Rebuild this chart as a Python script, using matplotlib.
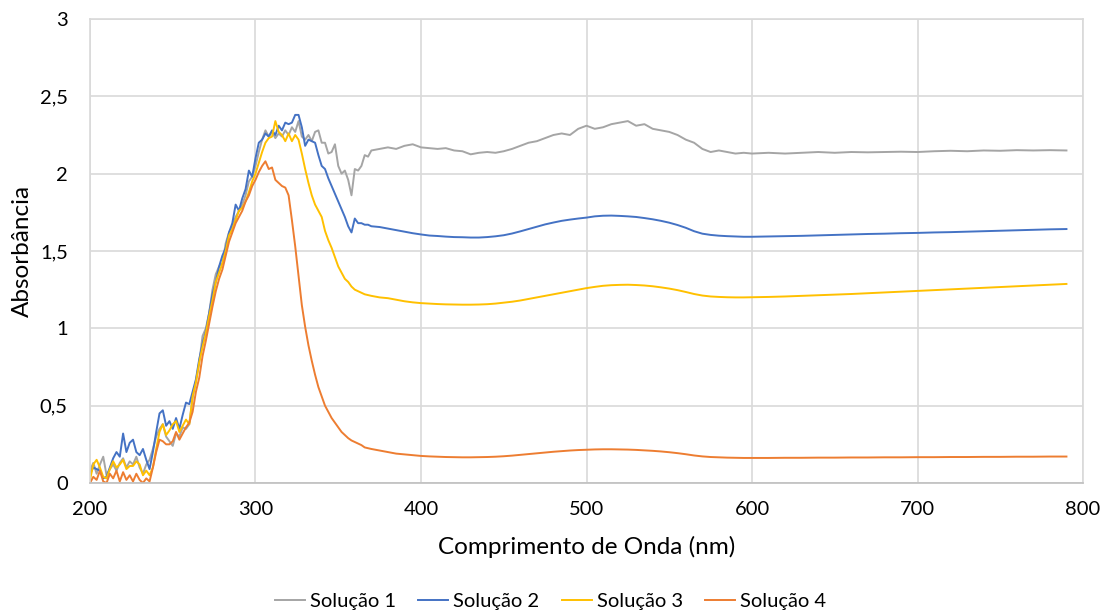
import matplotlib
matplotlib.use("Agg")
import matplotlib.pyplot as plt
import numpy as np

plt.rcParams['font.family'] = ['Lato', 'DejaVu Sans']

# comprimentos de onda: 200-370 de 2 em 2, 375-600 de 5 em 5, 610-790 de 10 em 10
wl_a = list(range(200, 371, 2))
wl_b = list(range(375, 601, 5)) + list(range(610, 791, 10))
wl = wl_a + wl_b

sol1_a = [0.08, 0.13, 0.06, 0.12, 0.17, 0.05, 0.09, 0.12, 0.08, 0.13,
          0.16, 0.10, 0.14, 0.12, 0.17, 0.10, 0.06, 0.12, 0.15, 0.22,
          0.30, 0.35, 0.38, 0.30, 0.27, 0.24, 0.32, 0.30, 0.36, 0.35,
          0.38, 0.55, 0.66, 0.78, 0.95, 1.00, 1.10, 1.25, 1.35, 1.40,
          1.42, 1.55, 1.62, 1.66, 1.72, 1.76, 1.80, 1.86, 1.95, 1.98,
          2.05, 2.14, 2.22, 2.28, 2.24, 2.27, 2.23, 2.26, 2.24, 2.28,
          2.25, 2.30, 2.27, 2.34, 2.24, 2.22, 2.25, 2.21, 2.27, 2.28,
          2.20, 2.20, 2.13, 2.14, 2.19, 2.05, 2.00, 2.02, 1.96, 1.86,
          2.03, 2.02, 2.05, 2.12, 2.11, 2.15]
sol1_b = [2.16, 2.17, 2.16, 2.18, 2.19, 2.17, 2.165, 2.16, 2.165, 2.15,
          2.145, 2.125, 2.135, 2.14, 2.135, 2.145, 2.16, 2.18, 2.20, 2.21,
          2.23, 2.25, 2.26, 2.25, 2.29, 2.31, 2.29, 2.30, 2.32, 2.33,
          2.34, 2.31, 2.32, 2.29, 2.28, 2.27, 2.25, 2.22, 2.20, 2.16,
          2.14, 2.15, 2.14, 2.13, 2.135, 2.13,
          2.135, 2.13, 2.135, 2.14, 2.135, 2.14, 2.138, 2.14, 2.142, 2.14,
          2.145, 2.148, 2.145, 2.15, 2.148, 2.152, 2.15, 2.152, 2.15]

sol2_a = [0.06, 0.10, 0.09, 0.08, 0.03, 0.04, 0.10, 0.16, 0.20, 0.17,
          0.32, 0.20, 0.26, 0.28, 0.20, 0.18, 0.22, 0.15, 0.09, 0.20,
          0.33, 0.45, 0.47, 0.37, 0.40, 0.35, 0.42, 0.35, 0.44, 0.52,
          0.51, 0.59, 0.67, 0.80, 0.90, 0.98, 1.10, 1.22, 1.30, 1.40,
          1.47, 1.52, 1.62, 1.68, 1.80, 1.76, 1.84, 1.90, 2.02, 1.98,
          2.10, 2.20, 2.22, 2.26, 2.24, 2.28, 2.25, 2.31, 2.28, 2.33,
          2.32, 2.33, 2.38, 2.38, 2.30, 2.18, 2.22, 2.21, 2.20, 2.12,
          2.05, 2.03, 1.97, 1.92, 1.87, 1.82, 1.77, 1.72, 1.66, 1.62,
          1.71, 1.68, 1.68, 1.67, 1.67, 1.66]
sol2_b = [1.655, 1.645, 1.635, 1.625, 1.615, 1.607, 1.60, 1.597, 1.593, 1.59,
          1.589, 1.587, 1.587, 1.59, 1.595, 1.602, 1.613, 1.627, 1.642, 1.657,
          1.672, 1.684, 1.695, 1.703, 1.71, 1.716, 1.724, 1.728, 1.729, 1.727,
          1.724, 1.72, 1.713, 1.705, 1.695, 1.683, 1.668, 1.65, 1.628, 1.612,
          1.604, 1.599, 1.596, 1.594, 1.592, 1.592,
          1.594, 1.596, 1.598, 1.601, 1.604, 1.607, 1.61, 1.612, 1.615, 1.617,
          1.62, 1.622, 1.625, 1.628, 1.631, 1.634, 1.637, 1.64, 1.642]

sol3_a = [0.02, 0.12, 0.15, 0.10, 0.04, 0.03, 0.09, 0.14, 0.10, 0.12,
          0.15, 0.09, 0.11, 0.11, 0.14, 0.12, 0.05, 0.08, 0.05, 0.10,
          0.22, 0.33, 0.38, 0.31, 0.34, 0.38, 0.40, 0.33, 0.37, 0.41,
          0.38, 0.56, 0.65, 0.78, 0.88, 0.97, 1.08, 1.18, 1.30, 1.36,
          1.42, 1.50, 1.60, 1.64, 1.70, 1.76, 1.78, 1.82, 1.88, 1.95,
          2.00, 2.07, 2.14, 2.20, 2.23, 2.24, 2.34, 2.27, 2.25, 2.21,
          2.26, 2.21, 2.25, 2.22, 2.13, 2.03, 1.94, 1.86, 1.80, 1.76,
          1.72, 1.63, 1.57, 1.52, 1.46, 1.40, 1.36, 1.32, 1.30, 1.27,
          1.25, 1.24, 1.23, 1.22, 1.215, 1.21]
sol3_b = [1.20, 1.195, 1.185, 1.175, 1.168, 1.163, 1.16, 1.157, 1.155, 1.154,
          1.153, 1.153, 1.154, 1.156, 1.16, 1.166, 1.172, 1.18, 1.19, 1.20,
          1.21, 1.22, 1.23, 1.24, 1.25, 1.26, 1.268, 1.275, 1.279, 1.281,
          1.282, 1.28, 1.277, 1.272, 1.265, 1.257, 1.247, 1.235, 1.222, 1.212,
          1.206, 1.203, 1.201, 1.20, 1.20, 1.201,
          1.203, 1.206, 1.21, 1.214, 1.218, 1.222, 1.227, 1.232, 1.237, 1.242,
          1.247, 1.252, 1.257, 1.262, 1.267, 1.272, 1.277, 1.282, 1.287]

sol4_a = [0.00, 0.04, 0.02, 0.08, 0.01, 0.00, 0.06, 0.03, 0.08, 0.01,
          0.07, 0.02, 0.05, 0.01, 0.06, 0.02, 0.00, 0.03, 0.01, 0.10,
          0.20, 0.28, 0.27, 0.25, 0.25, 0.27, 0.33, 0.28, 0.32, 0.36,
          0.39, 0.46, 0.59, 0.68, 0.82, 0.92, 1.03, 1.14, 1.24, 1.32,
          1.38, 1.47, 1.56, 1.62, 1.68, 1.72, 1.76, 1.82, 1.86, 1.92,
          1.96, 2.01, 2.05, 2.08, 2.03, 2.04, 1.96, 1.94, 1.92, 1.91,
          1.86, 1.70, 1.53, 1.34, 1.15, 1.01, 0.89, 0.79, 0.70, 0.62,
          0.56, 0.50, 0.46, 0.42, 0.39, 0.36, 0.33, 0.31, 0.29, 0.275,
          0.265, 0.255, 0.245, 0.23, 0.225, 0.22]
sol4_b = [0.21, 0.20, 0.19, 0.185, 0.18, 0.175, 0.172, 0.17, 0.168, 0.167,
          0.166, 0.166, 0.167, 0.168, 0.17, 0.173, 0.177, 0.182, 0.187, 0.192,
          0.197, 0.202, 0.206, 0.21, 0.213, 0.215, 0.217, 0.218, 0.218, 0.217,
          0.216, 0.214, 0.211, 0.208, 0.204, 0.199, 0.193, 0.186, 0.178, 0.172,
          0.168, 0.166, 0.164, 0.163, 0.162, 0.162,
          0.162, 0.163, 0.163, 0.164, 0.164, 0.165, 0.165, 0.166, 0.166, 0.167,
          0.167, 0.168, 0.168, 0.169, 0.169, 0.17, 0.17, 0.171, 0.171]

series = {
    'Solução 1': (sol1_a + sol1_b, '#A5A5A5'),
    'Solução 2': (sol2_a + sol2_b, '#4472C4'),
    'Solução 3': (sol3_a + sol3_b, '#FFC000'),
    'Solução 4': (sol4_a + sol4_b, '#ED7D31'),
}

x_ticks = [200, 300, 400, 500, 600, 700, 800]
y_ticks = [0, 0.5, 1, 1.5, 2, 2.5, 3]
y_labels = ['0', '0,5', '1', '1,5', '2', '2,5', '3']

fig = plt.figure(figsize=(11.01, 6.10), dpi=100)
ax = fig.add_axes([90 / 1101, 1 - 483 / 610, 993 / 1101, 464 / 610])

for name, (vals, col) in series.items():
    ax.plot(wl, vals, color=col, linewidth=1.4, label=name)

ax.set_xlim(200, 800)
ax.set_ylim(0, 3)
ax.set_xticks(x_ticks)
ax.set_yticks(y_ticks)
ax.set_yticklabels(y_labels)
ax.grid(True, color='#D9D9D9', linewidth=1.2)
ax.set_axisbelow(True)
for side in ['top', 'right', 'left']:
    ax.spines[side].set_color('#D9D9D9')
    ax.spines[side].set_linewidth(1.2)
ax.spines['bottom'].set_color('#BFBFBF')
ax.spines['bottom'].set_linewidth(1.2)
ax.tick_params(axis='both', length=0, labelsize=14.5, colors='#000000')
ax.tick_params(axis='y', pad=16)
ax.tick_params(axis='x', pad=13)

ax.set_xlabel('Comprimento de Onda (nm)', fontsize=17.5, labelpad=13)
ax.set_ylabel('Absorbância', fontsize=17.5, labelpad=5)

fig.legend(loc='lower center', bbox_to_anchor=(0.5, -0.03), ncol=4, frameon=False,
           fontsize=14.5, handlelength=1.5, handletextpad=0.25, columnspacing=1.1)

fig.savefig('out.png', dpi=100)
